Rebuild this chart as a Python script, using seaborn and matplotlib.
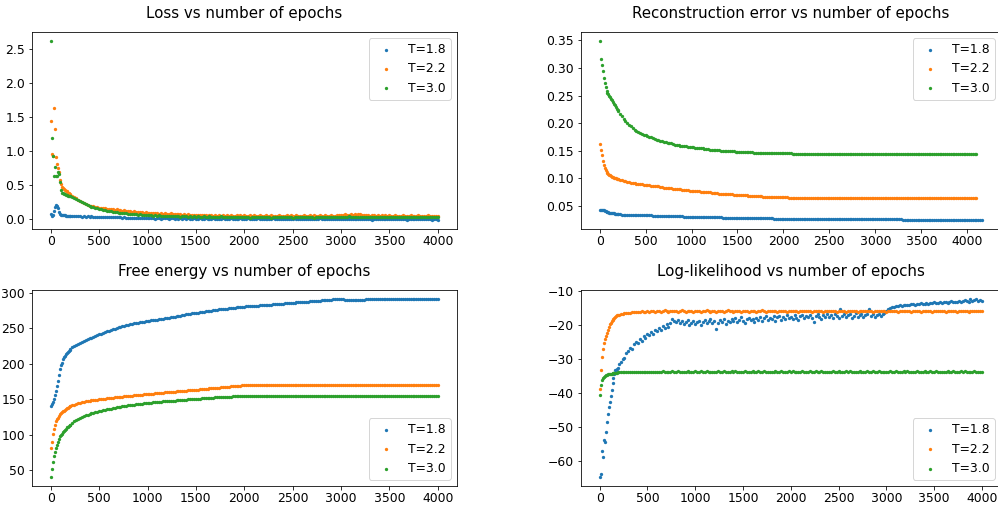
import matplotlib
matplotlib.use("Agg")
import matplotlib.pyplot as plt
from matplotlib.ticker import MultipleLocator
import seaborn as sns

plt.rcParams.update({
    "font.family": ["DejaVu Sans"],
    "font.size": 12.4,
    "axes.titlesize": 15,
    "axes.titlepad": 14,
    "xtick.major.pad": 2.5,
    "legend.fontsize": 12.4,
})

# epochs at which the metrics were logged
EPOCHS = list(range(5, 200, 10)) + list(range(200, 4001, 20))
RECON_EPOCHS_T18 = EPOCHS + list(range(4020, 4161, 20))
RECON_EPOCHS_REST = EPOCHS + list(range(4020, 4101, 20))

LABELS = ["T=1.8", "T=2.2", "T=3.0"]
COLORS = ["#1f77b4", "#ff7f0e", "#2ca02c"]

# ---------------- loss ----------------
LOSS_T18 = [
    0.08, 0.05, 0.07, 0.12, 0.18, 0.21, 0.20, 0.16, 0.11, 0.08,
    0.07, 0.07, 0.06, 0.06, 0.06, 0.05, 0.05, 0.05, 0.05, 0.05,
    0.05, 0.05, 0.045, 0.05, 0.045, 0.045, 0.04, 0.045, 0.04, 0.045,
    0.04, 0.045, 0.04, 0.04, 0.035, 0.04, 0.04, 0.035, 0.04, 0.035,
    0.035, 0.04, 0.03, 0.035, 0.03, 0.035, 0.03, 0.025, 0.03, 0.025,
    0.025, 0.02, 0.025, 0.02, 0.02, 0.025, 0.015, 0.02, 0.02, 0.015,
    0.02, 0.015, 0.02, 0.015, 0.01, 0.02, 0.015, 0.01, 0.015, 0.02,
    0.015, 0.01, 0.015, 0.02, 0.01, 0.015, 0.01, 0.015, 0.005, 0.015,
    0.01, 0.015, 0.01, 0.005, 0.015, 0.01, 0.01, 0.015, 0.005, 0.01,
    0.015, 0.01, 0.005, 0.01, 0.015, 0.01, 0.005, 0.01, 0.01, 0.015,
    0.01, 0.005, 0.01, 0.015, 0.005, 0.01, 0.01, 0.005, 0.015, 0.01,
    0.005, 0.01, 0.015, 0.005, 0.01, 0.005, 0.01, 0.015, 0.005, 0.01,
    0.01, 0.005, 0.01, 0.0, 0.01, 0.015, 0.005, 0.01, 0.005, 0.01,
    0.005, 0.01, 0.0, 0.01, 0.005, 0.01, 0.015, 0.005, 0.01, 0.0,
    0.01, 0.005, 0.01, 0.005, 0.0, 0.01, 0.005, 0.01, 0.005, 0.015,
    0.005, 0.0, 0.01, 0.005, 0.01, 0.005, 0.0, 0.01, 0.005, 0.01,
    0.0, 0.01, 0.005, 0.01, 0.0, 0.005, 0.01, 0.005, 0.0, 0.01,
    0.005, 0.01, 0.0, 0.005, 0.01, 0.005, -0.005, 0.005, 0.01, 0.0,
    0.01, 0.005, 0.0, 0.01, 0.005, 0.0, 0.005, 0.01, 0.0, 0.005,
    0.005, 0.0, 0.01, 0.005, -0.005, 0.005, 0.0, 0.01, 0.005, 0.0,
    0.0, 0.005, 0.01, 0.0, 0.005, 0.0, 0.005, -0.005, 0.005, 0.0,
    -0.01,
]
LOSS_T22 = [
    1.45, 0.96, 0.93, 1.64, 1.32, 0.92, 0.81, 0.76, 0.70, 0.58,
    0.52, 0.48, 0.46, 0.45, 0.43, 0.42, 0.41, 0.39, 0.38, 0.37,
    0.36, 0.34, 0.33, 0.31, 0.29, 0.27, 0.26, 0.24, 0.23, 0.21,
    0.20, 0.19, 0.19, 0.18, 0.18, 0.17, 0.17, 0.16, 0.165, 0.155,
    0.15, 0.155, 0.145, 0.14, 0.145, 0.135, 0.14, 0.13, 0.135, 0.125,
    0.12, 0.125, 0.115, 0.12, 0.11, 0.115, 0.105, 0.11, 0.1, 0.105,
    0.1, 0.095, 0.1, 0.09, 0.095, 0.09, 0.085, 0.095, 0.085, 0.09,
    0.085, 0.08, 0.09, 0.075, 0.085, 0.08, 0.075, 0.08, 0.07, 0.075,
    0.07, 0.075, 0.065, 0.07, 0.06, 0.07, 0.065, 0.06, 0.07, 0.06,
    0.065, 0.055, 0.065, 0.06, 0.055, 0.065, 0.05, 0.06, 0.055, 0.065,
    0.055, 0.06, 0.05, 0.065, 0.055, 0.05, 0.06, 0.055, 0.065, 0.05,
    0.06, 0.05, 0.055, 0.065, 0.045, 0.06, 0.055, 0.05, 0.06, 0.055,
    0.05, 0.06, 0.045, 0.055, 0.065, 0.05, 0.055, 0.045, 0.06, 0.05,
    0.055, 0.045, 0.06, 0.05, 0.065, 0.05, 0.055, 0.06, 0.045, 0.055,
    0.05, 0.06, 0.055, 0.045, 0.06, 0.05, 0.065, 0.055, 0.05, 0.06,
    0.055, 0.05, 0.06, 0.055, 0.045, 0.06, 0.05, 0.055, 0.065, 0.06,
    0.07, 0.065, 0.075, 0.06, 0.07, 0.08, 0.065, 0.075, 0.07, 0.085,
    0.075, 0.065, 0.07, 0.06, 0.065, 0.055, 0.06, 0.065, 0.055, 0.06,
    0.055, 0.06, 0.05, 0.06, 0.055, 0.065, 0.05, 0.055, 0.06, 0.05,
    0.055, 0.05, 0.06, 0.055, 0.045, 0.055, 0.06, 0.05, 0.055, 0.05,
    0.06, 0.05, 0.055, 0.045, 0.055, 0.06, 0.05, 0.055, 0.05, 0.055,
    0.05,
]
LOSS_T30 = [
    2.62, 1.19, 0.93, 0.64, 0.77, 0.63, 0.64, 0.69, 0.66, 0.55,
    0.43, 0.39, 0.38, 0.37, 0.37, 0.36, 0.36, 0.35, 0.35, 0.34,
    0.34, 0.33, 0.31, 0.30, 0.28, 0.27, 0.25, 0.24, 0.22, 0.21,
    0.19, 0.18, 0.175, 0.165, 0.16, 0.15, 0.145, 0.14, 0.135, 0.13,
    0.125, 0.12, 0.115, 0.11, 0.105, 0.1, 0.1, 0.095, 0.09, 0.09,
    0.085, 0.08, 0.085, 0.075, 0.08, 0.07, 0.075, 0.07, 0.065, 0.07,
    0.065, 0.06, 0.065, 0.055, 0.06, 0.055, 0.06, 0.05, 0.055, 0.05,
    0.055, 0.05, 0.045, 0.055, 0.05, 0.045, 0.05, 0.04, 0.05, 0.045,
    0.045, 0.04, 0.05, 0.04, 0.045, 0.035, 0.045, 0.04, 0.035, 0.045,
    0.04, 0.035, 0.045, 0.035, 0.04, 0.03, 0.04, 0.035, 0.045, 0.035,
    0.04, 0.03, 0.035, 0.04, 0.03, 0.04, 0.035, 0.03, 0.04, 0.035,
    0.03, 0.04, 0.035, 0.025, 0.035, 0.04, 0.03, 0.035, 0.03, 0.04,
    0.035, 0.03, 0.04, 0.035, 0.025, 0.035, 0.04, 0.03, 0.035, 0.03,
    0.04, 0.03, 0.035, 0.03, 0.04, 0.025, 0.035, 0.04, 0.03, 0.035,
    0.03, 0.035, 0.04, 0.03, 0.035, 0.03, 0.025, 0.035, 0.04, 0.03,
    0.035, 0.03, 0.035, 0.04, 0.03, 0.035, 0.03, 0.04, 0.035, 0.03,
    0.04, 0.035, 0.03, 0.04, 0.045, 0.035, 0.04, 0.03, 0.035, 0.04,
    0.035, 0.04, 0.03, 0.035, 0.04, 0.03, 0.035, 0.04, 0.035, 0.03,
    0.035, 0.03, 0.04, 0.035, 0.03, 0.04, 0.035, 0.03, 0.035, 0.04,
    0.03, 0.035, 0.04, 0.03, 0.035, 0.03, 0.04, 0.035, 0.03, 0.035,
    0.04, 0.03, 0.035, 0.03, 0.04, 0.035, 0.03, 0.035, 0.04, 0.03,
    0.035,
]

# ---------------- reconstruction error ----------------
RECON_T18 = [
    0.043, 0.043, 0.043, 0.043, 0.042, 0.041, 0.040, 0.039, 0.038, 0.038,
    0.037, 0.037, 0.036, 0.036, 0.036, 0.036, 0.035, 0.035, 0.035, 0.035,
    0.035, 0.035, 0.034, 0.034, 0.034, 0.034, 0.034, 0.034, 0.034, 0.033,
    0.033, 0.033, 0.033, 0.033, 0.033, 0.033, 0.033, 0.033, 0.033, 0.032,
    0.032, 0.032, 0.032, 0.032, 0.032, 0.032, 0.032, 0.031, 0.031, 0.031,
    0.031, 0.031, 0.031, 0.031, 0.031, 0.031, 0.030, 0.030, 0.030, 0.030,
    0.030, 0.030, 0.030, 0.030, 0.030, 0.030, 0.030, 0.029, 0.029, 0.029,
    0.029, 0.029, 0.029, 0.029, 0.029, 0.029, 0.029, 0.028, 0.028, 0.028,
    0.028, 0.028, 0.028, 0.028, 0.028, 0.028, 0.028, 0.028, 0.028, 0.028,
    0.028, 0.028, 0.028, 0.027, 0.027, 0.027, 0.027, 0.027, 0.027, 0.027,
    0.027, 0.027, 0.027, 0.027, 0.027, 0.026, 0.026, 0.026, 0.026, 0.026,
    0.026, 0.026, 0.026, 0.026, 0.026, 0.026, 0.026, 0.026, 0.026, 0.026,
    0.026, 0.026, 0.026, 0.026, 0.026, 0.025, 0.025, 0.025, 0.025, 0.025,
    0.025, 0.025, 0.025, 0.025, 0.025, 0.025, 0.025, 0.025, 0.025, 0.025,
    0.025, 0.025, 0.025, 0.025, 0.025, 0.025, 0.025, 0.025, 0.025, 0.025,
    0.025, 0.025, 0.025, 0.025, 0.025, 0.025, 0.025, 0.025, 0.025, 0.025,
    0.025, 0.025, 0.025, 0.025, 0.025, 0.025, 0.025, 0.025, 0.025, 0.025,
    0.025, 0.025, 0.025, 0.025, 0.025, 0.024, 0.024, 0.024, 0.024, 0.024,
    0.024, 0.024, 0.024, 0.024, 0.024, 0.024, 0.024, 0.024, 0.024, 0.024,
    0.024, 0.024, 0.024, 0.024, 0.024, 0.024, 0.024, 0.024, 0.024, 0.024,
    0.024, 0.024, 0.024, 0.024, 0.024, 0.024, 0.024, 0.024, 0.024, 0.024,
    0.024,
    0.024, 0.024, 0.024, 0.024, 0.024, 0.024, 0.024, 0.024,
]
RECON_T22 = [
    0.162, 0.152, 0.142, 0.132, 0.124, 0.118, 0.114, 0.111, 0.109, 0.107,
    0.106, 0.105, 0.104, 0.103, 0.102, 0.101, 0.100, 0.100, 0.099, 0.098,
    0.098, 0.097, 0.096, 0.095, 0.094, 0.093, 0.093, 0.092, 0.091, 0.091,
    0.090, 0.090, 0.089, 0.089, 0.088, 0.088, 0.087, 0.087, 0.086, 0.086,
    0.085, 0.085, 0.085, 0.084, 0.084, 0.083, 0.083, 0.083, 0.082, 0.082,
    0.081, 0.081, 0.080, 0.080, 0.080, 0.079, 0.079, 0.078, 0.078, 0.077,
    0.077, 0.077, 0.076, 0.076, 0.076, 0.075, 0.075, 0.075, 0.074, 0.074,
    0.074, 0.073, 0.073, 0.073, 0.073, 0.072, 0.072, 0.072, 0.072, 0.071,
    0.071, 0.071, 0.071, 0.070, 0.070, 0.070, 0.070, 0.069, 0.069, 0.069,
    0.069, 0.068, 0.068, 0.068, 0.068, 0.067, 0.067, 0.067, 0.067, 0.066,
    0.066, 0.066, 0.066, 0.066, 0.065, 0.065, 0.065, 0.065, 0.065, 0.065,
    0.065, 0.065, 0.065, 0.064, 0.064, 0.064, 0.064, 0.064, 0.064, 0.064,
    0.064, 0.064, 0.064, 0.064, 0.064, 0.064, 0.064, 0.064, 0.064, 0.064,
    0.064, 0.064, 0.064, 0.064, 0.064, 0.064, 0.064, 0.064, 0.064, 0.064,
    0.064, 0.064, 0.064, 0.064, 0.064, 0.064, 0.064, 0.064, 0.064, 0.064,
    0.064, 0.064, 0.064, 0.064, 0.064, 0.064, 0.064, 0.064, 0.064, 0.064,
    0.064, 0.064, 0.064, 0.064, 0.064, 0.064, 0.064, 0.064, 0.064, 0.064,
    0.064, 0.064, 0.064, 0.064, 0.064, 0.064, 0.064, 0.064, 0.064, 0.064,
    0.064, 0.064, 0.064, 0.064, 0.064, 0.064, 0.064, 0.064, 0.064, 0.064,
    0.064, 0.064, 0.064, 0.064, 0.064, 0.064, 0.064, 0.064, 0.064, 0.064,
    0.064, 0.064, 0.064, 0.064, 0.064, 0.064, 0.064, 0.064, 0.064, 0.064,
    0.064,
    0.064, 0.064, 0.064, 0.064, 0.064,
]
RECON_T30 = [
    0.349, 0.316, 0.306, 0.295, 0.281, 0.272, 0.266, 0.259, 0.255, 0.252,
    0.249, 0.247, 0.244, 0.241, 0.238, 0.235, 0.232, 0.229, 0.226, 0.223,
    0.222, 0.217, 0.212, 0.208, 0.204, 0.200, 0.197, 0.194, 0.191, 0.188,
    0.186, 0.184, 0.182, 0.180, 0.179, 0.178, 0.176, 0.175, 0.174, 0.172,
    0.171, 0.170, 0.169, 0.168, 0.167, 0.166, 0.165, 0.164, 0.164, 0.163,
    0.162, 0.161, 0.161, 0.160, 0.159, 0.159, 0.158, 0.158, 0.157, 0.157,
    0.156, 0.156, 0.155, 0.155, 0.155, 0.154, 0.154, 0.153, 0.153, 0.153,
    0.152, 0.152, 0.152, 0.151, 0.151, 0.151, 0.150, 0.150, 0.150, 0.150,
    0.149, 0.149, 0.149, 0.149, 0.148, 0.148, 0.148, 0.148, 0.148, 0.147,
    0.147, 0.147, 0.147, 0.147, 0.146, 0.146, 0.146, 0.146, 0.146, 0.146,
    0.145, 0.145, 0.145, 0.145, 0.145, 0.145, 0.145, 0.145, 0.145, 0.145,
    0.145, 0.145, 0.145, 0.145, 0.145, 0.144, 0.144, 0.144, 0.144, 0.144,
    0.144, 0.144, 0.144, 0.144, 0.144, 0.144, 0.144, 0.144, 0.144, 0.144,
    0.144, 0.144, 0.144, 0.144, 0.144, 0.144, 0.144, 0.144, 0.144, 0.144,
    0.144, 0.144, 0.144, 0.144, 0.144, 0.144, 0.144, 0.144, 0.144, 0.144,
    0.144, 0.144, 0.144, 0.144, 0.144, 0.144, 0.144, 0.144, 0.144, 0.144,
    0.144, 0.144, 0.144, 0.144, 0.144, 0.144, 0.144, 0.144, 0.144, 0.144,
    0.144, 0.144, 0.144, 0.144, 0.144, 0.144, 0.144, 0.144, 0.144, 0.144,
    0.144, 0.144, 0.144, 0.144, 0.144, 0.144, 0.144, 0.144, 0.144, 0.144,
    0.144, 0.144, 0.144, 0.144, 0.144, 0.144, 0.144, 0.144, 0.144, 0.144,
    0.144, 0.144, 0.144, 0.144, 0.144, 0.144, 0.144, 0.144, 0.144, 0.144,
    0.144,
    0.144, 0.144, 0.144, 0.144, 0.144,
]

# ---------------- free energy ----------------
FREE_T18 = [
    140, 143, 146.5, 150, 155.5, 161, 168, 176, 184, 193,
    198, 201.5, 206, 209, 211.5, 213.5, 215.4, 217, 218.5, 220,
    221, 223, 225, 226.5, 228, 229.5, 231, 232, 233.5, 234.5,
    236, 237, 238, 239.5, 240.5, 241.5, 242.5, 243.5, 244.5, 245.5,
    246.5, 247.5, 248.5, 249.5, 250.5, 251.2, 252, 252.8, 253.6, 254.4,
    255, 255.6, 256.2, 256.8, 257.4, 258, 258.5, 259, 259.5, 260,
    260.4, 260.8, 261.2, 261.6, 262, 262.4, 262.8, 263.2, 263.6, 264,
    264.5, 265, 265.5, 266, 266.5, 267, 267.5, 268, 268.5, 269,
    269.5, 270, 270.5, 271, 271.5, 271.8, 272.2, 272.6, 273, 273.4,
    273.8, 274.2, 274.6, 275, 275.4, 275.8, 276.2, 276.6, 277, 277.4,
    277.6, 277.9, 278.2, 278.5, 278.8, 279.1, 279.4, 279.7, 280, 280.3,
    280.5, 280.8, 281, 281.2, 281.4, 281.6, 281.9, 282.1, 282.3, 282.5,
    282.7, 282.9, 283.2, 283.4, 283.6, 283.8, 284, 284.3, 284.5, 284.7,
    284.9, 285.1, 285.4, 285.6, 285.8, 286, 286.3, 286.5, 286.7, 286.9,
    287.1, 287.4, 287.6, 287.8, 288, 288.3, 288.5, 288.7, 288.9, 289.2,
    289.4, 289.6, 289.8, 290, 290.3, 290.5, 290.7, 290.9, 291.1, 291.3,
    291.5, 290.8, 290.4, 290.3, 290.3, 290.4, 290.4, 290.5, 290.5, 290.5,
    290.6, 290.6, 290.6, 290.7, 290.7, 290.7, 290.7, 290.8, 290.8, 290.8,
    290.8, 290.9, 290.9, 290.9, 290.9, 291, 291, 291, 291, 291,
    291, 291.1, 291.1, 291.1, 291.1, 291.1, 291.2, 291.2, 291.2, 291.2,
    291.2, 291.2, 291.2, 291.3, 291.3, 291.3, 291.3, 291.3, 291.3, 291.3,
    291.3,
]
FREE_T22 = [
    80.4, 90, 101, 108, 114, 118.5, 122, 124, 126.5, 128.5,
    130, 131.3, 132.6, 133.8, 134.9, 136, 137, 138, 138.9, 139.7,
    140.2, 141.3, 142.4, 143.3, 144.1, 144.9, 145.6, 146.3, 146.9, 147.4,
    147.8, 148.2, 148.6, 149, 149.4, 149.8, 150.2, 150.6, 150.9, 151.2,
    151.5, 151.8, 152.1, 152.4, 152.7, 153, 153.3, 153.6, 153.9, 154.2,
    154.4, 154.7, 155, 155.3, 155.5, 155.8, 156.1, 156.3, 156.6, 156.9,
    157.1, 157.4, 157.6, 157.9, 158.1, 158.4, 158.6, 158.9, 159.1, 159.4,
    159.6, 159.9, 160.1, 160.4, 160.6, 160.9, 161.1, 161.4, 161.6, 161.9,
    162.1, 162.4, 162.6, 162.9, 163.1, 163.4, 163.6, 163.9, 164.1, 164.4,
    164.6, 164.9, 165.1, 165.4, 165.6, 165.9, 166.1, 166.4, 166.6, 166.9,
    167.1, 167.4, 167.6, 167.9, 168.1, 168.4, 168.6, 168.9, 169.1, 169.3,
    169.3, 169.3, 169.3, 169.3, 169.3, 169.4, 169.4, 169.4, 169.4, 169.4,
    169.4, 169.4, 169.4, 169.4, 169.4, 169.4, 169.4, 169.4, 169.4, 169.4,
    169.4, 169.4, 169.4, 169.4, 169.4, 169.5, 169.5, 169.5, 169.5, 169.5,
    169.5, 169.5, 169.5, 169.5, 169.5, 169.5, 169.5, 169.5, 169.5, 169.5,
    169.5, 169.5, 169.5, 169.5, 169.5, 169.5, 169.5, 169.5, 169.5, 169.5,
    169.5, 169.5, 169.5, 169.5, 169.5, 169.5, 169.5, 169.5, 169.5, 169.5,
    169.5, 169.5, 169.5, 169.5, 169.6, 169.6, 169.6, 169.6, 169.6, 169.6,
    169.6, 169.6, 169.6, 169.6, 169.6, 169.6, 169.6, 169.6, 169.6, 169.6,
    169.6, 169.6, 169.6, 169.6, 169.6, 169.6, 169.6, 169.6, 169.6, 169.6,
    169.6, 169.6, 169.6, 169.6, 169.6, 169.6, 169.6, 169.6, 169.6, 169.6,
    169.6,
]
FREE_T30 = [
    40, 52, 62, 70, 75, 80.5, 85, 89.5, 94, 97.5,
    99.5, 101.5, 103.5, 105.4, 107, 108.5, 110, 111.2, 112.3, 113.4,
    114, 116.5, 119, 120.6, 122, 123.4, 124.8, 126, 127, 128,
    128.9, 129.8, 130.6, 131.4, 132.2, 132.9, 133.6, 134.3, 135, 135.6,
    136.2, 136.8, 137.4, 138, 138.5, 139, 139.5, 140, 140.4, 140.8,
    141.2, 141.6, 142, 142.4, 142.8, 143.1, 143.4, 143.7, 144, 144.3,
    144.6, 144.9, 145.2, 145.5, 145.8, 146.1, 146.3, 146.5, 146.7, 146.9,
    147.1, 147.3, 147.6, 147.8, 148, 148.2, 148.5, 148.7, 148.9, 149.1,
    149.4, 149.6, 149.8, 150, 150.3, 150.5, 150.7, 150.9, 151.1, 151.3,
    151.5, 151.7, 151.9, 152, 152.2, 152.4, 152.6, 152.7, 152.9, 153.1,
    153.3, 153.4, 153.6, 153.7, 153.9, 154, 154.1, 154.2, 154.3, 154.4,
    154.5, 154.5, 154.5, 154.6, 154.6, 154.6, 154.6, 154.7, 154.7, 154.7,
    154.7, 154.7, 154.7, 154.7, 154.8, 154.8, 154.8, 154.8, 154.8, 154.8,
    154.8, 154.8, 154.8, 154.8, 154.8, 154.8, 154.8, 154.8, 154.8, 154.8,
    154.9, 154.9, 154.9, 154.9, 154.9, 154.9, 154.9, 154.9, 154.9, 154.9,
    154.9, 154.9, 154.9, 154.9, 154.9, 154.9, 154.9, 154.9, 154.9, 154.9,
    154.9, 154.9, 154.9, 154.9, 154.9, 154.9, 154.9, 154.9, 154.9, 154.9,
    155, 155, 155, 155, 155, 155, 155, 155, 155, 155,
    155, 155, 155, 155, 155, 155, 155, 155, 155, 155,
    155, 155, 155, 155, 155, 155, 155, 155, 155, 155,
    155, 155, 155, 155, 155, 155, 155, 155, 155, 155,
    155,
]

# ---------------- log-likelihood ----------------
LL_T18 = [
    -64.7, -63.8, -57.0, -58.9, -53.7, -54.3, -51.6, -48.6, -46.2, -44.0,
    -42.6, -40.8, -39.0, -37.2, -35.6, -34.5, -33.4, -33.3, -33.0, -32.6,
    -31.5, -31.0, -29.9, -29.6, -28.4, -27.8, -26.9, -27.2, -25.6, -25.0,
    -25.3, -24.2, -24.8, -23.4, -23.9, -22.6, -23.0, -22.1, -22.6, -21.5,
    -21.9, -20.8, -21.4, -20.3, -20.9, -19.8, -20.5, -19.6, -18.4, -18.8,
    -19.1, -18.6, -19.5, -18.9, -19.8, -19.2, -18.7, -20.1, -19.4, -19.0,
    -19.7, -19.2, -18.8, -20.0, -19.3, -18.6, -19.6, -19.0, -18.4, -19.5,
    -18.9, -21.2, -19.4, -18.5, -19.1, -18.2, -19.7, -18.8, -19.3, -18.4,
    -18.9, -18.1, -19.3, -18.6, -17.8, -18.9, -19.5, -18.3, -17.9, -18.7,
    -18.2, -19.1, -17.9, -18.5, -17.6, -18.8, -18.1, -17.4, -18.6, -17.9,
    -18.4, -17.5, -18.9, -17.8, -17.3, -18.5, -17.7, -18.2, -17.1, -17.9,
    -17.6, -18.3, -17.2, -17.9, -18.6, -17.4, -17.0, -18.1, -17.5, -17.8,
    -17.1, -18.0, -19.2, -17.5, -16.9, -17.7, -18.3, -17.2, -17.8, -16.8,
    -17.6, -17.1, -18.1, -16.9, -17.4, -18.0, -15.4, -17.3, -16.8, -17.7,
    -17.2, -16.7, -17.9, -17.3, -16.6, -17.8, -17.1, -16.9, -17.6, -17.0,
    -16.8, -15.5, -17.4, -16.9, -17.6, -17.1, -16.7, -17.3, -16.9, -16.4,
    -15.9, -15.3, -15.0, -14.8, -14.7, -14.6, -14.5, -14.3, -14.4, -14.2,
    -14.3, -14.1, -14.2, -14.0, -13.9, -14.1, -13.8, -14.0, -13.7, -13.9,
    -13.8, -13.6, -13.8, -13.5, -13.7, -13.4, -13.6, -13.5, -13.3, -13.6,
    -13.4, -13.2, -13.5, -13.3, -13.1, -13.4, -13.2, -13.3, -13.0, -13.2,
    -13.1, -12.6, -12.9, -13.2, -12.5, -13.0, -12.8, -12.4, -12.9, -12.7,
    -12.9,
]
LL_T22 = [
    -38.9, -33.2, -29.5, -27.0, -25.3, -24.2, -23.3, -22.3, -21.4, -20.6,
    -19.9, -19.4, -19.0, -18.6, -18.2, -17.9, -17.6, -17.4, -17.2, -17.1,
    -17.0, -16.8, -16.7, -16.6, -16.5, -16.4, -16.4, -16.3, -16.2, -16.3,
    -16.1, -16.2, -16.0, -16.1, -16.2, -15.9, -16.1, -16.0, -15.9, -16.1,
    -16.0, -15.9, -16.1, -16.0, -15.8, -16.0, -16.1, -15.9, -16.0, -16.0,
    -15.9, -16.1, -16.0, -15.8, -16.0, -16.1, -15.9, -16.0, -15.9, -16.1,
    -16.0, -15.9, -16.0, -16.1, -15.9, -16.0, -15.8, -16.0, -16.1, -15.9,
    -16.0, -16.1, -15.9, -16.0, -15.9, -16.1, -16.0, -15.8, -16.0, -15.9,
    -16.1, -16.0, -15.9, -16.0, -16.1, -15.9, -16.0, -15.9, -16.1, -16.0,
    -15.9, -16.0, -16.1, -15.9, -16.0, -15.8, -16.0, -16.1, -15.9, -16.0,
    -16.0, -15.9, -16.0, -16.1, -15.9, -16.0, -16.0, -15.9, -16.1, -16.0,
    -15.9, -16.0, -16.0, -15.9, -16.1, -16.0, -15.9, -16.0, -16.0, -15.9,
    -16.0, -16.1, -15.9, -16.0, -16.0, -15.9, -16.0, -16.1, -15.9, -16.0,
    -16.0, -15.9, -16.0, -16.0, -16.1, -15.9, -16.0, -15.9, -16.0, -16.1,
    -15.9, -16.0, -16.0, -15.9, -16.0, -16.1, -15.9, -16.0, -16.0, -15.9,
    -16.0, -16.0, -15.9, -16.1, -16.0, -15.9, -16.0, -16.0, -15.9, -16.0,
    -16.1, -15.9, -16.0, -16.0, -15.9, -16.0, -16.1, -16.0, -15.9, -16.0,
    -16.0, -15.9, -16.0, -16.1, -16.0, -15.9, -16.0, -16.0, -16.1, -15.9,
    -16.0, -16.0, -15.9, -16.0, -16.1, -16.0, -15.9, -16.0, -16.0, -15.9,
    -16.0, -16.1, -16.0, -15.9, -16.0, -16.0, -15.9, -16.1, -16.0, -16.0,
    -15.9, -16.0, -16.0, -16.1, -15.9, -16.0, -16.0, -15.9, -16.0, -16.0,
    -16.0,
]
LL_T30 = [
    -40.6, -37.8, -36.2, -35.5, -35.2, -34.9, -34.8, -34.6, -34.5, -34.4,
    -34.4, -34.3, -34.3, -34.2, -34.2, -34.2, -34.1, -34.1, -34.1, -34.0,
    -34.0, -34.0, -33.9, -34.0, -33.9, -33.9, -34.0, -33.9, -33.8, -33.9,
    -33.9, -33.8, -33.9, -33.9, -33.8, -33.9, -33.8, -33.9, -33.8, -33.8,
    -33.9, -33.8, -33.8, -33.7, -33.8, -33.9, -33.8, -33.8, -33.7, -33.8,
    -33.8, -33.7, -33.8, -33.9, -33.8, -33.8, -33.7, -33.8, -33.9, -33.8,
    -33.7, -33.8, -33.8, -33.7, -33.9, -33.8, -33.7, -33.8, -33.8, -33.9,
    -33.8, -33.9, -33.7, -33.8, -33.8, -33.7, -33.8, -33.9, -33.8, -33.7,
    -33.8, -33.7, -33.8, -33.9, -33.8, -33.8, -33.7, -33.8, -33.9, -33.8,
    -33.7, -33.8, -33.8, -33.7, -33.9, -33.8, -33.7, -33.8, -33.8, -33.9,
    -33.8, -33.9, -33.7, -33.8, -33.8, -33.7, -33.8, -33.9, -33.8, -33.7,
    -33.8, -33.7, -33.8, -33.9, -33.8, -33.8, -33.7, -33.8, -33.9, -33.8,
    -33.7, -33.8, -33.8, -33.7, -33.9, -33.8, -33.7, -33.8, -33.8, -33.9,
    -33.8, -33.9, -33.7, -33.8, -33.8, -33.7, -33.8, -33.9, -33.8, -33.7,
    -33.8, -33.7, -33.8, -33.9, -33.8, -33.8, -33.7, -33.8, -33.9, -33.8,
    -33.7, -33.8, -33.8, -33.7, -33.9, -33.8, -33.7, -33.8, -33.8, -33.9,
    -33.8, -33.9, -33.7, -33.8, -33.8, -33.7, -33.8, -33.9, -33.8, -33.7,
    -33.8, -33.7, -33.8, -33.9, -33.8, -33.8, -33.7, -33.8, -33.9, -33.8,
    -33.7, -33.8, -33.8, -33.7, -33.9, -33.8, -33.7, -33.8, -33.8, -33.9,
    -33.8, -33.9, -33.7, -33.8, -33.8, -33.7, -33.8, -33.9, -33.8, -33.7,
    -33.8, -33.7, -33.8, -33.9, -33.8, -33.8, -33.7, -33.8, -33.9, -33.8,
    -33.8,
]

# (title, series, legend location, y tick step, axes box in pixels)
PANELS = [
    ("Loss vs number of epochs",
     [(EPOCHS, LOSS_T18), (EPOCHS, LOSS_T22), (EPOCHS, LOSS_T30)],
     "upper right", 0.5, (32, 32, 425, 197)),
    ("Reconstruction error vs number of epochs",
     [(RECON_EPOCHS_T18, RECON_T18), (RECON_EPOCHS_REST, RECON_T22),
      (RECON_EPOCHS_REST, RECON_T30)],
     "upper right", 0.05, (581, 32, 420, 197)),
    ("Free energy vs number of epochs",
     [(EPOCHS, FREE_T18), (EPOCHS, FREE_T22), (EPOCHS, FREE_T30)],
     "lower right", 50, (32, 290, 425, 196)),
    ("Log-likelihood vs number of epochs",
     [(EPOCHS, LL_T18), (EPOCHS, LL_T22), (EPOCHS, LL_T30)],
     "lower right", 10, (581, 290, 420, 196)),
]

W, H, DPI = 998, 506, 72
fig = plt.figure(figsize=(W / DPI, H / DPI), dpi=DPI)

for title, series, loc, ystep, (x0, y0, w, h) in PANELS:
    ax = fig.add_axes([x0 / W, 1 - (y0 + h) / H, w / W, h / H])
    for (ep, vals), label, color in zip(series, LABELS, COLORS):
        sns.scatterplot(x=ep, y=vals, s=11, color=color, linewidth=0,
                        label=label, ax=ax)
    ax.xaxis.set_major_locator(MultipleLocator(500))
    ax.yaxis.set_major_locator(MultipleLocator(ystep))
    ax.set_title(title)
    ax.legend(loc=loc)

fig.savefig("out.png", dpi=DPI)
